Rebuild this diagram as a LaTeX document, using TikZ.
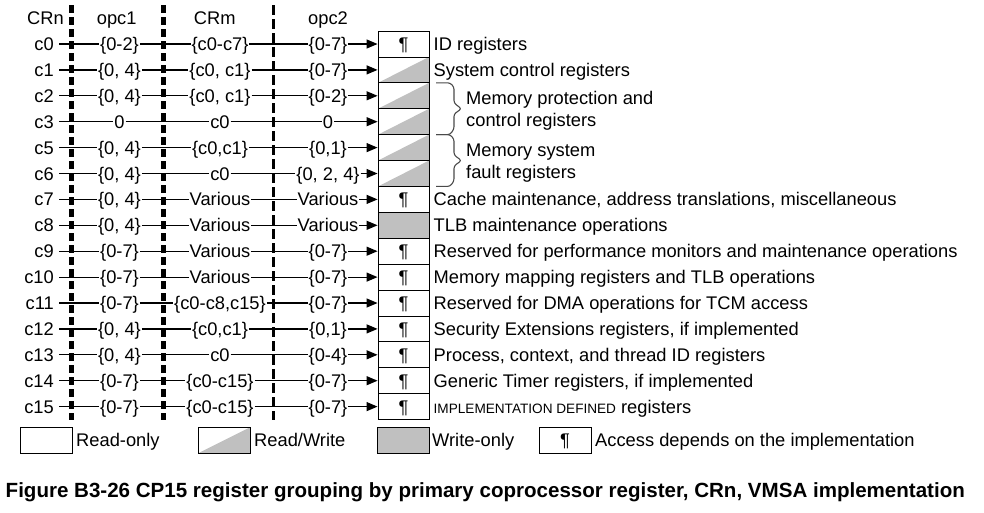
\documentclass[tikz,border=0pt]{standalone}
\usepackage{fontspec}
\setmainfont{Liberation Sans}
\usetikzlibrary{arrows.meta}
\definecolor{rgray}{HTML}{C0C0C0}
\definecolor{bracecol}{HTML}{4A4A4A}
\newcommand\fsz{\fontsize{18.3}{22}\selectfont}
\newcommand\capsz{\fontsize{20.55}{24}\selectfont}
\newcommand\smallcapsz{\fontsize{13.6}{16}\selectfont}
\newcommand\regrow[8]{%
  \node[crn] (n#1) at (59,{44+25.9*#1}) {#2};
  \node[lbl] (a#1) at (119.5,{44+25.9*#1}) {#3};
  \node[lbl] (m#1) at (220,{44+25.9*#1}) {#4};
  \node[lbl] (p#1) at (328,{44+25.9*#1}) {#5};
  \node[#6] (b#1) at (403.5,{44+25.9*#1}) {#7};
  \node[desc] (d#1) at (433.5,{44+25.9*#1}) {#8};
  \draw[conn] (n#1) -- (a#1) -- (m#1) -- (p#1);
  \draw[arr] (p#1) -- (b#1);
}
\begin{document}
\begin{tikzpicture}[x=1pt,y=-1pt,
  every node/.style={font=\fsz, inner sep=0pt},
  lbl/.style={text height=13.1pt, text depth=0pt, inner xsep=0.8pt},
  crn/.style={lbl, anchor=east, inner xsep=5pt},
  regbox/.style={draw, line width=0.9pt, minimum width=51pt, minimum height=25.9pt, text height=13.1pt, text depth=0pt},
  ro/.style={regbox},
  rw/.style={regbox, path picture={\fill[rgray] (path picture bounding box.south west) -- (path picture bounding box.south east) -- (path picture bounding box.north east) -- cycle;}},
  wo/.style={regbox, fill=rgray},
  conn/.style={line width=1.2pt},
  arr/.style={conn, -{Triangle[length=11pt,width=9pt]}},
  desc/.style={anchor=west, text height=13.1pt, text depth=0pt},
  thickdash/.style={line width=4.6pt, dash pattern=on 8pt off 4pt},
  thindash/.style={line width=3pt, dash pattern=on 10pt off 4pt},
  bracestyle/.style={draw=bracecol, line width=1.1pt, rounded corners=2.5pt}
]
\useasboundingbox (0,0) rectangle (984,512);

% headers
\node[lbl] (hcrn) at (45.5,18.3) {CRn};
\node[lbl] (hop1) at (116.7,18.3) {opc1};
\node[lbl] (hcrm) at (214.7,18.3) {CRm};
\node[lbl] (hop2) at (328,18.3) {opc2};

\regrow{0}{c0}{\{0-2\}}{\{c0-c7\}}{\{0-7\}}{ro}{¶}{ID registers}
\regrow{1}{c1}{\{0, 4\}}{\{c0, c1\}}{\{0-7\}}{rw}{}{System control registers}
\regrow{2}{c2}{\{0, 4\}}{\{c0, c1\}}{\{0-2\}}{rw}{}{}
\regrow{3}{c3}{0}{c0}{0}{rw}{}{}
\regrow{4}{c5}{\{0, 4\}}{\{c0,c1\}}{\{0,1\}}{rw}{}{}
\regrow{5}{c6}{\{0, 4\}}{c0}{\{0, 2, 4\}}{rw}{}{}
\regrow{6}{c7}{\{0, 4\}}{Various}{Various}{ro}{¶}{Cache maintenance, address translations, miscellaneous}
\regrow{7}{c8}{\{0, 4\}}{Various}{Various}{wo}{}{TLB maintenance operations}
\regrow{8}{c9}{\{0-7\}}{Various}{\{0-7\}}{ro}{¶}{Reserved for performance monitors and maintenance operations}
\regrow{9}{c10}{\{0-7\}}{Various}{\{0-7\}}{ro}{¶}{Memory mapping registers and TLB operations}
\regrow{10}{c11}{\{0-7\}}{\{c0-c8,c15\}}{\{0-7\}}{ro}{¶}{Reserved for DMA operations for TCM access}
\regrow{11}{c12}{\{0, 4\}}{\{c0,c1\}}{\{0,1\}}{ro}{¶}{Security Extensions registers, if implemented}
\regrow{12}{c13}{\{0, 4\}}{c0}{\{0-4\}}{ro}{¶}{Process, context, and thread ID registers}
\regrow{13}{c14}{\{0-7\}}{\{c0-c15\}}{\{0-7\}}{ro}{¶}{Generic Timer registers, if implemented}
\regrow{14}{c15}{\{0-7\}}{\{c0-c15\}}{\{0-7\}}{ro}{¶}{{\smallcapsz IMPLEMENTATION DEFINED} registers}

% dashed column separators
\draw[thickdash] (71.7,5) -- (71.7,420);
\draw[thickdash] (163.3,5) -- (163.3,420);
\draw[thindash] (273.3,5) -- (273.3,420);

% braces
\draw[bracestyle] (436,82.8) -- (450,82.8) -- (454,87) -- (454,103) -- (461.5,108.8) -- (454,114) -- (454,129) -- (450,134.6) -- (436,134.6);
\draw[bracestyle] (436,134.6) -- (450,134.6) -- (454,139) -- (454,155) -- (461.5,160.5) -- (454,166) -- (454,181) -- (450,186.4) -- (436,186.4);
\node[desc] (g1a) at (466,98.3) {Memory protection and};
\node[desc] (g1b) at (466,120) {control registers};
\node[desc] (g2a) at (466,150) {Memory system};
\node[desc] (g2b) at (466,171.7) {fault registers};

% legend
\node[ro, minimum width=52.7pt] (lro) at (46.4,440.3) {};
\node[desc] (tro) at (76,440.3) {Read-only};
\node[rw, minimum width=52pt] (lrw) at (224,440.3) {};
\node[desc] (trw) at (254,440.3) {Read/Write};
\node[wo, minimum width=52pt] (lwo) at (403,440.3) {};
\node[desc] (two) at (432,440.3) {Write-only};
\node[ro, minimum width=52pt] (lac) at (565,440.3) {¶};
\node[desc] (tac) at (595,440.3) {Access depends on the implementation};

% caption
\node[anchor=base west, font=\capsz\bfseries] (cap) at (5.5,497) {Figure B3-26 CP15 register grouping by primary coprocessor register, CRn, VMSA implementation};
\end{tikzpicture}
\end{document}
